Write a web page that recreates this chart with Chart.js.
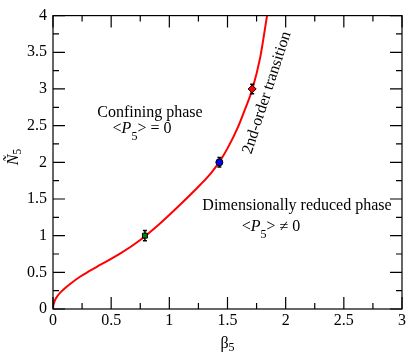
<!DOCTYPE html>
<html>
<head>
<meta charset="utf-8">
<script src="https://cdn.jsdelivr.net/npm/chart.js@4.4.1/dist/chart.umd.min.js"></script>
<style>
  html, body { margin: 0; padding: 0; background: #fff; }
  #wrap { width: 409px; height: 354px; }
</style>
</head>
<body>
<div id="wrap"><canvas id="phaseChart" width="409" height="354"></canvas></div>
<script>
// transition line
const curveBeta = [0, 0.002, 0.008, 0.02, 0.04, 0.06, 0.1, 0.15, 0.232, 0.31, 0.404, 0.58, 0.75, 0.92, 1.09, 1.27, 1.36, 1.436, 1.5, 1.59, 1.65, 1.714, 1.78, 1.84];
const curveN    = [0, 0.04, 0.08, 0.13, 0.18, 0.22, 0.28, 0.345, 0.44, 0.515, 0.60, 0.758, 0.941, 1.166, 1.417, 1.70, 1.857, 2.02, 2.19, 2.48, 2.72, 3.0, 3.42, 4.0];

// simulation points with error bars
const pointBeta = [0.79, 1.43, 1.712];
const pointN    = [1.0, 2.0, 3.0];
const pointErr  = [0.07, 0.065, 0.065];
const pointColors = ['#008000', '#0000ff', '#ff0000'];
const pointShapes = ['rect', 'circle', 'rectRot'];
const pointSizes  = [3.5, 3.5, 4];

const xTicks = [0, 0.5, 1, 1.5, 2, 2.5, 3];
const yTicks = [0, 0.5, 1, 1.5, 2, 2.5, 3, 3.5, 4];

const serif = '"Liberation Serif", "DejaVu Serif", serif';

function drawRuns(ctx, runs, x, y, align) {
    // runs: [text, font, dy]
    let total = 0;
    runs.forEach(r => { ctx.font = r[1]; total += ctx.measureText(r[0]).width; });
    let cx = align === 'center' ? x - total / 2 : x;
    runs.forEach(r => {
        ctx.font = r[1];
        ctx.fillText(r[0], cx, y + (r[2] || 0));
        cx += ctx.measureText(r[0]).width;
    });
}

const decorPlugin = {
    id: 'decor',
    beforeDatasetDraw(chart, args) {
        if (args.index !== 0) return;
        const ctx = chart.ctx;
        const xs = chart.scales.x, ys = chart.scales.y;
        ctx.save();
        ctx.strokeStyle = '#000';
        ctx.lineWidth = 1.5;
        for (let i = 0; i < pointBeta.length; i++) {
            const px = xs.getPixelForValue(pointBeta[i]);
            const y1 = ys.getPixelForValue(pointN[i] - pointErr[i]);
            const y2 = ys.getPixelForValue(pointN[i] + pointErr[i]);
            ctx.beginPath();
            ctx.moveTo(px, y1); ctx.lineTo(px, y2);
            ctx.moveTo(px - 2, y1); ctx.lineTo(px + 2, y1);
            ctx.moveTo(px - 2, y2); ctx.lineTo(px + 2, y2);
            ctx.stroke();
        }
        ctx.restore();
    },
    afterDraw(chart) {
        const ctx = chart.ctx;
        const a = chart.chartArea;
        const xs = chart.scales.x, ys = chart.scales.y;
        ctx.save();
        ctx.strokeStyle = '#000';
        ctx.lineWidth = 1.2;
        ctx.strokeRect(a.left, a.top, a.right - a.left, a.bottom - a.top);

        // inward ticks on all four sides
        ctx.beginPath();
        for (let v = 0; v <= 3.001; v += 0.25) {
            const px = xs.getPixelForValue(v);
            const len = Math.abs(v * 2 - Math.round(v * 2)) < 1e-6 ? 12 : 6;
            ctx.moveTo(px, a.bottom); ctx.lineTo(px, a.bottom - len);
            ctx.moveTo(px, a.top); ctx.lineTo(px, a.top + len);
        }
        for (let v = 0; v <= 4.001; v += 0.25) {
            const py = ys.getPixelForValue(v);
            const len = Math.abs(v * 2 - Math.round(v * 2)) < 1e-6 ? 12 : 6;
            ctx.moveTo(a.left, py); ctx.lineTo(a.left + len, py);
            ctx.moveTo(a.right, py); ctx.lineTo(a.right - len, py);
        }
        ctx.stroke();

        ctx.fillStyle = '#000';
        ctx.textBaseline = 'alphabetic';
        ctx.textAlign = 'left';
        const f = '16px ' + serif, fi = 'italic 16px ' + serif, fs = '12px ' + serif;

        drawRuns(ctx, [['Confining phase', f]], 150, 117, 'center');
        drawRuns(ctx, [['<', f], ['P', fi], ['5', fs, 7], ['> = 0', f]], 142, 133, 'center');
        drawRuns(ctx, [['Dimensionally reduced phase', f]], 297, 210, 'center');
        drawRuns(ctx, [['<', f], ['P', fi], ['5', fs, 7], ['> \u2260 0', f]], 271, 231, 'center');

        // axis titles
        drawRuns(ctx, [['\u03b2', f], ['5', fs, 3]], (a.left + a.right) / 2, 348, 'center');
        ctx.save();
        ctx.translate(18, 157);
        ctx.rotate(-Math.PI / 2);
        drawRuns(ctx, [['N\u0303', fi], ['5', fs, 3]], 0, 0, 'center');
        ctx.restore();

        // label along the transition line
        ctx.save();
        ctx.translate(271, 94);
        ctx.rotate(-72 * Math.PI / 180);
        drawRuns(ctx, [['2nd-order transition', f]], 0, 0, 'center');
        ctx.restore();
        ctx.restore();
    }
};

new Chart(document.getElementById('phaseChart'), {
    type: 'scatter',
    data: {
        datasets: [
            {
                label: 'points',
                data: pointBeta.map((b, i) => ({ x: b, y: pointN[i] })),
                pointStyle: pointShapes,
                pointRadius: pointSizes,
                backgroundColor: pointColors,
                borderColor: '#000',
                borderWidth: 1,
                showLine: false
            },
            {
                label: 'transition',
                data: curveBeta.map((b, i) => ({ x: b, y: curveN[i] })),
                showLine: true,
                borderColor: '#ff0000',
                borderWidth: 2,
                pointRadius: 0,
                cubicInterpolationMode: 'monotone',
                fill: false
            }
        ]
    },
    options: {
        responsive: false,
        animation: false,
        events: [],
        layout: { padding: { top: 5, right: 7, left: 0, bottom: 0 } },
        plugins: { legend: { display: false }, tooltip: { enabled: false } },
        scales: {
            x: {
                type: 'linear', min: 0, max: 3,
                afterBuildTicks: s => { s.ticks = xTicks.map(v => ({ value: v })); },
                afterFit: s => { s.height = 45; },
                grid: { display: false, drawTicks: false },
                border: { display: false },
                ticks: { color: '#000', font: { family: serif, size: 16 }, padding: 2, maxRotation: 0,
                         callback: v => String(v) }
            },
            y: {
                type: 'linear', min: 0, max: 4,
                afterBuildTicks: s => { s.ticks = yTicks.map(v => ({ value: v })); },
                afterFit: s => { s.width = 53; },
                grid: { display: false, drawTicks: false },
                border: { display: false },
                ticks: { color: '#000', font: { family: serif, size: 16 }, padding: 6,
                         callback: v => String(v) }
            }
        }
    },
    plugins: [decorPlugin]
});
</script>
</body>
</html>
